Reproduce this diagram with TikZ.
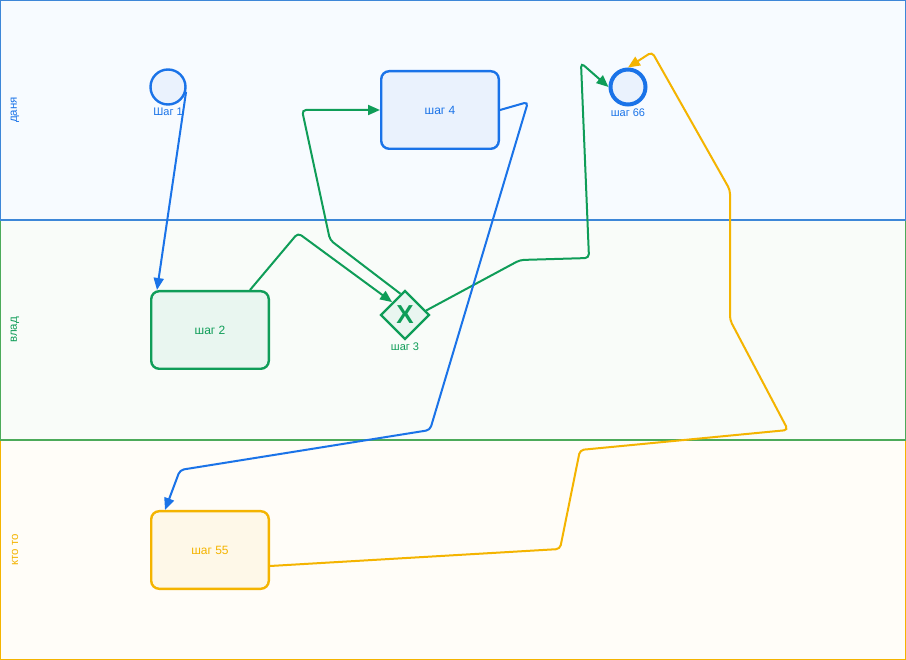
\documentclass[tikz,border=0pt]{standalone}
\usepackage{fontspec}
\setmainfont{Liberation Sans}
\usetikzlibrary{positioning, arrows.meta, shapes.geometric}
\definecolor{bpmnblue}{HTML}{1A73E8}
\definecolor{bpmngreen}{HTML}{0F9D58}
\definecolor{bpmnyellow}{HTML}{F4B400}
\definecolor{laneblue}{HTML}{3D87D8}
\definecolor{lanegreen}{HTML}{4CAA5A}
\tikzset{
    lane/.style={draw=#1, line width=2.6pt},
    lanename/.style={rotate=90, text=#1, font=\fontsize{11.5}{13}\selectfont},
    task/.style={draw=#1, fill=#1!9, text=#1, rounded corners=8pt, line width=2.4pt,
      minimum width=117.6pt, minimum height=77.6pt, font=\fontsize{12}{14}\selectfont},
    evt/.style={circle, draw=bpmnblue, fill=bpmnblue!9, minimum size=35pt, inner sep=0pt, line width=2.4pt},
    evtlabel/.style={text=#1, font=\fontsize{11}{13}\selectfont, label distance=-1pt},
    gate/.style={diamond, draw=bpmngreen, fill=bpmngreen!9, text=bpmngreen, minimum size=49pt,
      inner sep=0pt, line width=2.4pt, font=\fontsize{26}{27}\bfseries\selectfont},
    flow/.style={draw=#1, line width=2pt, rounded corners=4pt, -{Triangle[length=12pt, width=10pt]}},
}

\begin{document}
\begin{tikzpicture}[x=1pt, y=-1pt]
    \useasboundingbox (0,0) rectangle (906,660);

    \draw[lane=bpmnyellow, fill={rgb,255:red,255;green,253;blue,248}] (0,440) rectangle (906,660);
    \draw[lane=lanegreen, fill={rgb,255:red,249;green,252;blue,249}] (0,220) rectangle (906,440);
    \draw[lane=laneblue, fill={rgb,255:red,247;green,251;blue,255}] (0,0) rectangle (906,220);

    \node[lanename=bpmnblue] (l1) at (15,110) {даня};
    \node[lanename=bpmngreen] (l2) at (15,330) {влад};
    \node[lanename=bpmnyellow] (l3) at (15,550) {кто то};

    \node[evt, label={[evtlabel=bpmnblue]below:Шаг 1}] (s1) at (168,87) {};
    \node[evt, line width=4pt, minimum size=35pt, label={[evtlabel=bpmnblue]below:шаг 66}] (e66) at (628,87) {};
    \node[task=bpmnblue] (t4) at (440,110) {шаг 4};
    \node[task=bpmngreen] (t2) at (210,330) {шаг 2};
    \node[gate, label={[evtlabel=bpmngreen]below:шаг 3}] (g3) at (405,315) {X};
    \node[task=bpmnyellow] (t55) at (210,550) {шаг 55};

    \draw[flow=bpmnblue] (s1.-15) -- ([xshift=7pt]t2.north west);
    \draw[flow=bpmngreen] ([xshift=40pt]t2.north) -- (298,233) -- (g3.north west);
    \draw[flow=bpmngreen] (g3.102) -- (330,240) -- (302,110) -- (t4.west);
    \draw[flow=bpmngreen] (g3.12) -- (520,260) -- (589,258) -- (581,63) -- (e66.west);
    \draw[flow=bpmnblue] (t4.east) -- (528,102) -- (430,430) -- (180,470) -- ([xshift=15pt]t55.north west);
    \draw[flow=bpmnyellow] ([yshift=-16pt]t55.east) -- (560,549) -- (580,450) -- (788,430)
      -- (730,320) -- (730,190) -- (652,52) -- (e66.north);
\end{tikzpicture}
\end{document}
